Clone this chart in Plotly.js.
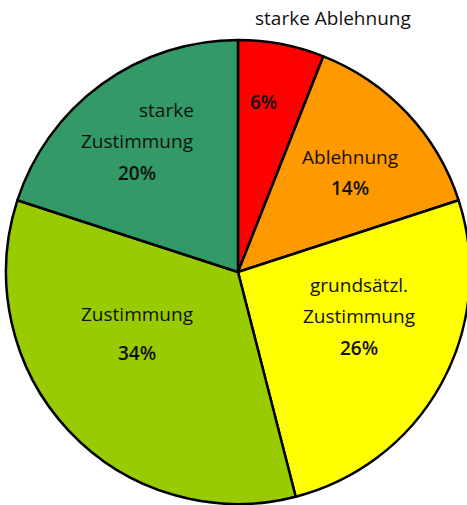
<!DOCTYPE html>
<html>
<head>
<meta charset="utf-8">
<script src="https://cdn.plot.ly/plotly-3.0.1.min.js"></script>
<style>
  html, body { margin: 0; padding: 0; overflow: hidden; background: #fff; }
  #chart { width: 472px; height: 505px; }
</style>
</head>
<body>
<div id="chart"></div>
<script>
// data, clockwise from 12 o'clock
const categories = ['starke Ablehnung', 'Ablehnung', 'grundsätzl. Zustimmung', 'Zustimmung', 'starke Zustimmung'];
const shares = [6, 14, 26, 34, 20];
const sliceColors = ['#ff0000', '#ff9900', '#ffff00', '#99cc00', '#339966'];

// label lines for each slice (percent added from shares)
const labelLines = [[], ['Ablehnung'], ['grundsätzl.', 'Zustimmung'], ['Zustimmung'], ['starke', 'Zustimmung']];

const W = 472, H = 505;
const px = x => x / W;
const py = y => 1 - y / H;

// where the text block of each slice sits (pixel positions of each line)
const labelPos = [
    { x: 263, ys: [102] },
    { x: 350, ys: [157, 188] },
    { x: 359, ys: [285, 316, 348] },
    { x: 137, ys: [314, 353] },
    { x: 137, ys: [110, 141, 173] }
];

const font = 'Open Sans, Noto Sans, sans-serif';
const annotations = [];

categories.forEach((cat, i) => {
    const pos = labelPos[i];
    const lines = labelLines[i].concat([shares[i] + '%']);
    lines.forEach((txt, j) => {
        const isPct = j === lines.length - 1;
        const a = {
            text: txt,
            xref: 'paper', yref: 'paper',
            x: px(pos.x), y: py(pos.ys[j]),
            xanchor: 'center', yanchor: 'middle',
            showarrow: false,
            font: { family: font, size: 19, color: '#111', weight: isPct ? 600 : 400 }
        };
        // "starke" sits flush right over "Zustimmung"
        if (i === 4 && j === 0) {
            a.x = px(196);
            a.xanchor = 'right';
        }
        annotations.push(a);
    });
});

// outside label for the small slice
annotations.push({
    text: categories[0],
    xref: 'paper', yref: 'paper',
    x: px(333), y: py(18),
    xanchor: 'center', yanchor: 'middle',
    showarrow: false,
    font: { family: font, size: 19, color: '#111' }
});

const trace = {
    type: 'pie',
    labels: categories,
    values: shares,
    sort: false,
    direction: 'clockwise',
    rotation: 0,
    textinfo: 'none',
    hoverinfo: 'none',
    marker: {
        colors: sliceColors,
        line: { color: '#000', width: 2.5 }
    },
    domain: { x: [px(6), px(470)], y: [py(504), py(40)] }
};

const layout = {
    width: W,
    height: H,
    margin: { t: 0, r: 0, b: 0, l: 0 },
    paper_bgcolor: '#fff',
    showlegend: false,
    annotations: annotations
};

Plotly.newPlot('chart', [trace], layout, { displayModeBar: false, staticPlot: true });
</script>
</body>
</html>
